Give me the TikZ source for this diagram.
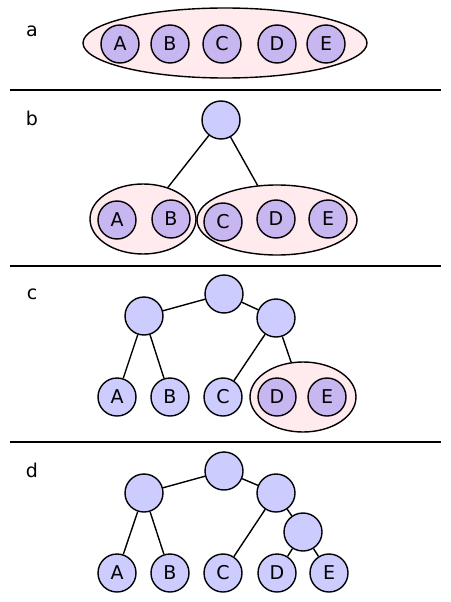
\documentclass[tikz,border=0pt]{standalone}
\usepackage{fontspec}
\setmainfont{DejaVu Sans}
\usetikzlibrary{shapes.geometric}
\definecolor{leaf}{RGB}{204,204,255}
\definecolor{inleaf}{RGB}{200,182,240}
\definecolor{grpfill}{RGB}{255,234,238}
\tikzset{
  vtx/.style={circle,draw,fill=leaf,minimum size=38pt,inner sep=0pt,line width=1.4pt,
    font=\fontsize{19}{19}\selectfont},
  gvtx/.style={vtx,fill=inleaf},
  grp/.style={ellipse,draw,fill=grpfill,line width=1.4pt,inner sep=0pt},
  lbl/.style={font=\fontsize{19}{19}\selectfont},
  edge/.style={line width=1.4pt}
}

\begin{document}
\begin{tikzpicture}[x=1pt,y=-1pt]
\useasboundingbox (0,0) rectangle (450,602);
% a
\node[lbl] (la) at (32,31) {a};
\node[grp,minimum width=284pt,minimum height=70pt] (ga) at (225,43) {};
\node[gvtx] (aA) at (120,44) {A};
\node[gvtx] (aB) at (170,44) {B};
\node[gvtx] (aC) at (222,44) {C};
\node[gvtx] (aD) at (277,44) {D};
\node[gvtx] (aE) at (326,44) {E};
\draw[edge] (10,90) -- (441,90);
% b
\node[lbl] (lb) at (32,118) {b};
\node[vtx] (br) at (221,120) {};
\node[grp,minimum width=106pt,minimum height=70pt] (gab) at (143,219) {};
\node[grp,minimum width=160pt,minimum height=70pt] (gcde) at (277,220) {};
\node[gvtx] (bA) at (117,220) {A};
\node[gvtx] (bB) at (171,219) {B};
\node[gvtx] (bC) at (223,222) {C};
\node[gvtx] (bD) at (276,219) {D};
\node[gvtx] (bE) at (328,219) {E};
\draw[edge] (br) -- (gab);
\draw[edge] (br) -- (gcde);
\draw[edge] (10,266) -- (441,266);
% c
\node[lbl] (lc) at (32,294) {c};
\node[vtx] (cr) at (224,294) {};
\node[vtx] (cl) at (144,316) {};
\node[vtx] (crr) at (276,318) {};
\node[vtx] (cA) at (117,397) {A};
\node[vtx] (cB) at (170,397) {B};
\node[vtx] (cC) at (223,397) {C};
\node[grp,minimum width=106pt,minimum height=70pt] (gde) at (303,397) {};
\node[gvtx] (cD) at (277,397) {D};
\node[gvtx] (cE) at (327,397) {E};
\draw[edge] (cr) -- (cl);
\draw[edge] (cr) -- (crr);
\draw[edge] (cl) -- (cA);
\draw[edge] (cl) -- (cB);
\draw[edge] (crr) -- (cC);
\draw[edge] (crr) -- (gde);
\draw[edge] (10,442) -- (441,442);
% d
\node[lbl] (ld) at (32,470) {d};
\node[vtx] (dr) at (224,471) {};
\node[vtx] (dl) at (144,493) {};
\node[vtx] (drr) at (276,493) {};
\node[vtx] (drrr) at (303,532) {};
\node[vtx] (dA) at (117,573) {A};
\node[vtx] (dB) at (170,573) {B};
\node[vtx] (dC) at (223,573) {C};
\node[vtx] (dD) at (277,573) {D};
\node[vtx] (dE) at (329,573) {E};
\draw[edge] (dr) -- (dl);
\draw[edge] (dr) -- (drr);
\draw[edge] (dl) -- (dA);
\draw[edge] (dl) -- (dB);
\draw[edge] (drr) -- (dC);
\draw[edge] (drr) -- (drrr);
\draw[edge] (drrr) -- (dD);
\draw[edge] (drrr) -- (dE);
\end{tikzpicture}
\end{document}
